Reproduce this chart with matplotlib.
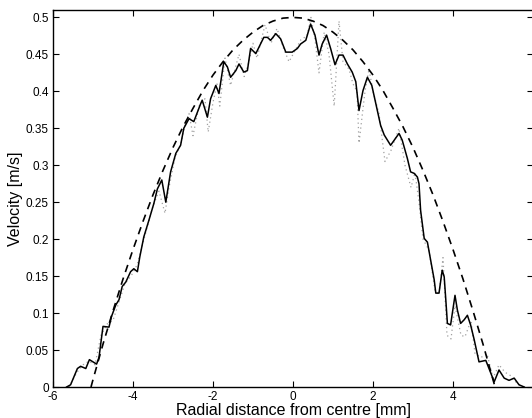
import matplotlib
matplotlib.use("Agg")
import matplotlib.pyplot as plt

plt.rcParams['font.family'] = ['Liberation Sans', 'DejaVu Sans']

# Theoretical (dashed) profile
theory_x = [-5.05, -5.0, -4.75, -4.5, -4.25, -4.0, -3.75, -3.5, -3.25, -3.0, -2.75, -2.5, -2.25, -2.0,
            -1.75, -1.5, -1.25, -1.0, -0.75, -0.5, -0.25, 0.0, 0.25, 0.5, 0.75, 1.0, 1.25, 1.5,
            1.75, 2.0, 2.25, 2.5, 2.75, 3.0, 3.25, 3.5, 3.75, 4.0, 4.25, 4.5, 4.75, 5.0, 5.05]
theory_v = [0.0, 0.010, 0.058, 0.103, 0.146, 0.186, 0.224, 0.260, 0.293, 0.324, 0.352, 0.377, 0.401,
            0.422, 0.440, 0.456, 0.469, 0.480, 0.489, 0.495, 0.499, 0.500, 0.499, 0.495, 0.489,
            0.480, 0.469, 0.456, 0.440, 0.422, 0.401, 0.377, 0.352, 0.324, 0.293, 0.260, 0.224,
            0.186, 0.146, 0.103, 0.058, 0.010, 0.0]

# Measured profile (solid)
meas_x = [-5.66, -5.56, -5.39, -5.31, -5.18, -5.09, -4.91, -4.85, -4.75, -4.60, -4.54, -4.43, -4.35,
          -4.27, -4.18, -4.06, -3.98, -3.89, -3.83, -3.73, -3.60, -3.48, -3.39, -3.28, -3.18,
          -3.06, -2.93, -2.81, -2.73, -2.60, -2.48, -2.31, -2.27, -2.14, -2.06, -1.93, -1.85,
          -1.73, -1.64, -1.56, -1.43, -1.35, -1.23, -1.14, -1.06, -0.93, -0.73, -0.64, -0.56,
          -0.43, -0.31, -0.18, -0.02, 0.11, 0.19, 0.32, 0.44, 0.55, 0.65, 0.73, 0.84, 0.94,
          1.05, 1.15, 1.25, 1.36, 1.48, 1.57, 1.65, 1.75, 1.86, 1.97, 2.08, 2.19, 2.28, 2.44,
          2.65, 2.73, 2.86, 2.94, 3.03, 3.11, 3.15, 3.19, 3.28, 3.36, 3.44, 3.53, 3.57, 3.65,
          3.73, 3.78, 3.82, 3.86, 3.94, 4.05, 4.11, 4.19, 4.28, 4.36, 4.44, 4.53, 4.65, 4.82,
          4.90, 5.03, 5.15, 5.28, 5.40, 5.53, 5.65, 5.78]
meas_v = [0.0, 0.003, 0.025, 0.028, 0.025, 0.037, 0.031, 0.040, 0.082, 0.081, 0.095, 0.111, 0.118,
          0.136, 0.142, 0.156, 0.160, 0.156, 0.176, 0.203, 0.226, 0.248, 0.268, 0.280, 0.250,
          0.291, 0.316, 0.327, 0.350, 0.363, 0.359, 0.383, 0.388, 0.365, 0.390, 0.408, 0.397,
          0.440, 0.433, 0.419, 0.428, 0.437, 0.426, 0.428, 0.458, 0.451, 0.473, 0.473, 0.469,
          0.478, 0.471, 0.453, 0.453, 0.458, 0.464, 0.469, 0.491, 0.476, 0.449, 0.464, 0.476,
          0.458, 0.436, 0.449, 0.449, 0.437, 0.426, 0.413, 0.374, 0.401, 0.419, 0.408, 0.381,
          0.354, 0.341, 0.327, 0.343, 0.334, 0.309, 0.291, 0.289, 0.284, 0.275, 0.239, 0.201,
          0.196, 0.172, 0.145, 0.127, 0.127, 0.158, 0.149, 0.118, 0.086, 0.084, 0.124, 0.104,
          0.086, 0.091, 0.097, 0.084, 0.064, 0.034, 0.036, 0.025, 0.007, 0.023, 0.012, 0.009,
          0.012, 0.003, 0.0]

# Second measurement (grey dotted)
dot_x = [-5.6, -5.4, -5.25, -5.1, -4.95, -4.8, -4.65, -4.5, -4.35, -4.2, -4.05, -3.9, -3.8, -3.65,
         -3.5, -3.35, -3.2, -3.1, -2.95, -2.8, -2.7, -2.6, -2.5, -2.35, -2.2, -2.12, -2.0, -1.9,
         -1.83, -1.7, -1.56, -1.45, -1.35, -1.22, -1.1, -1.0, -0.9, -0.7, -0.55, -0.4, -0.25,
         -0.1, 0.05, 0.2, 0.35, 0.45, 0.55, 0.65, 0.78, 0.9, 1.03, 1.15, 1.25, 1.4, 1.5, 1.6,
         1.65, 1.8, 1.9, 2.0, 2.15, 2.3, 2.45, 2.65, 2.8, 2.95, 3.05, 3.15, 3.25, 3.4, 3.55,
         3.65, 3.75, 3.85, 3.95, 4.05, 4.2, 4.3, 4.45, 4.55, 4.7, 4.85, 5.0, 5.15, 5.3, 5.45,
         5.6, 5.75]
dot_v = [0.0, 0.02, 0.03, 0.035, 0.03, 0.07, 0.085, 0.09, 0.115, 0.14, 0.15, 0.165, 0.185, 0.215,
         0.245, 0.265, 0.235, 0.27, 0.31, 0.33, 0.355, 0.37, 0.34, 0.38, 0.39, 0.345, 0.385, 0.41,
         0.38, 0.445, 0.408, 0.43, 0.45, 0.42, 0.44, 0.465, 0.445, 0.49, 0.465, 0.485, 0.46,
         0.44, 0.455, 0.47, 0.475, 0.50, 0.47, 0.425, 0.48, 0.45, 0.38, 0.495, 0.44, 0.43, 0.41,
         0.40, 0.33, 0.40, 0.43, 0.40, 0.37, 0.305, 0.32, 0.35, 0.30, 0.27, 0.29, 0.25, 0.20,
         0.185, 0.13, 0.125, 0.175, 0.07, 0.065, 0.11, 0.07, 0.068, 0.09, 0.045, 0.04, 0.045,
         0.012, 0.03, 0.02, 0.015, 0.005, 0.0]

x_ticks = [-6, -4, -2, 0, 2, 4]
y_ticks = [0, 0.05, 0.1, 0.15, 0.2, 0.25, 0.3, 0.35, 0.4, 0.45, 0.5]
y_labels = ['0', '0.05', '0.1', '0.15', '0.2', '0.25', '0.3', '0.35', '0.4', '0.45', '0.5']

fig = plt.figure(figsize=(5.32, 4.18), dpi=100)
ax = fig.add_axes([53 / 532, 31 / 418, 480 / 532, 377 / 418])

ax.plot(dot_x, dot_v, linestyle=(0, (1, 2.5)), color='#a0a0a0', linewidth=0.9)
ax.plot(theory_x, theory_v, linestyle=(0, (4.5, 3.5)), color='black', linewidth=1.2)
ax.plot(meas_x, meas_v, linestyle='-', color='black', linewidth=1.1)

ax.set_xlim(-6, 6)
ax.set_ylim(0, 0.51)
ax.set_xticks(x_ticks)
ax.set_xticklabels([str(t) for t in x_ticks])
ax.set_yticks(y_ticks)
ax.set_yticklabels(y_labels)
ax.tick_params(direction='in', length=4, width=0.8, top=True, right=True,
               labelsize=8.5, pad=3)
ax.tick_params(axis='x', pad=3)
for s in ax.spines.values():
    s.set_linewidth(1.0)

ax.set_xlabel('Radial distance from centre [mm]', fontsize=11.5, labelpad=0)
ax.set_ylabel('Velocity [m/s]', fontsize=11.5, labelpad=2)

fig.savefig('out.png', dpi=100)
